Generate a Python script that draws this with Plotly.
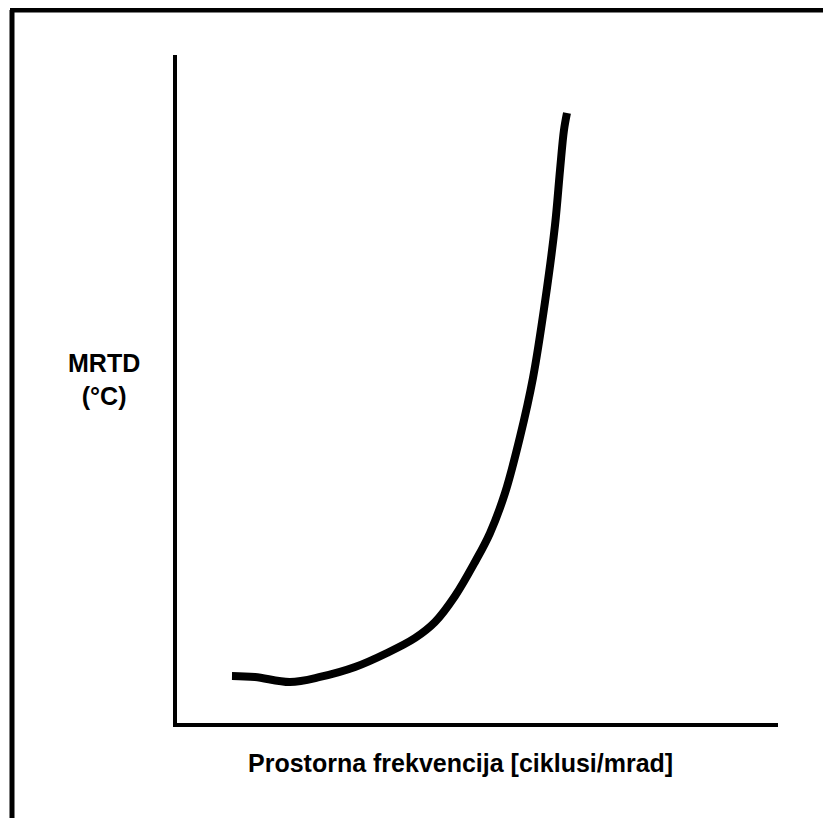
import plotly.graph_objects as go

# Data (arbitrary units; axis ranges 0..10)
freq = [0.915, 1.298, 1.880, 2.379, 2.962, 3.494, 3.960, 4.293, 4.626, 4.958, 5.208, 5.458, 5.707, 5.923, 6.123, 6.290, 6.373, 6.439, 6.489]
mrtd = [0.704, 0.689, 0.614, 0.689, 0.838, 1.048, 1.272, 1.512, 1.901, 2.410, 2.844, 3.443, 4.281, 5.165, 6.302, 7.455, 8.278, 8.877, 9.132]

x_title = "Prostorna frekvencija [ciklusi/mrad]"
y_title = "MRTD<br>(°C)"

fig = go.Figure()
fig.add_trace(go.Scatter(x=freq, y=mrtd, mode="lines",
                         line=dict(color="black", width=8, shape="spline", smoothing=1.0),
                         hoverinfo="skip", showlegend=False))

W, H = 831, 818
OFF = 8  # page body margin
L, R, T, B = 177 - OFF, 53 + OFF, 55 - OFF, 95 + OFF
pw, ph = W - L - R, H - T - B

def px(x):
    return (x - OFF - L) / pw

def py(y):
    return (H - B - (y - OFF)) / ph

axis_common = dict(showgrid=False, zeroline=False, showticklabels=False, ticks="",
                   showline=True, linecolor="black", linewidth=4, fixedrange=True)
fig.update_xaxes(range=[0, 10], **axis_common)
fig.update_yaxes(range=[0, 10], **axis_common)

fig.add_annotation(text="<b>" + y_title + "</b>", xref="paper", yref="paper",
                   x=px(104), y=py(379), showarrow=False, xanchor="center", yanchor="middle",
                   font=dict(family="Liberation Sans", size=25, color="black"))
fig.add_annotation(text="<b>" + x_title + "</b>", xref="paper", yref="paper",
                   x=px(460), y=py(763), showarrow=False, xanchor="center", yanchor="middle",
                   font=dict(family="Liberation Sans", size=25, color="black"))

# outer frame (left and top edges)
fig.add_shape(type="line", xref="paper", yref="paper", x0=px(12), x1=px(12), y0=py(840), y1=py(10),
              line=dict(color="black", width=5))
fig.add_shape(type="line", xref="paper", yref="paper", x0=px(10), x1=px(840), y0=py(10), y1=py(10),
              line=dict(color="black", width=5))

fig.update_layout(width=W, height=H, margin=dict(l=L, r=R, t=T, b=B),
                  paper_bgcolor="white", plot_bgcolor="white")
fig.write_html("out.html")
